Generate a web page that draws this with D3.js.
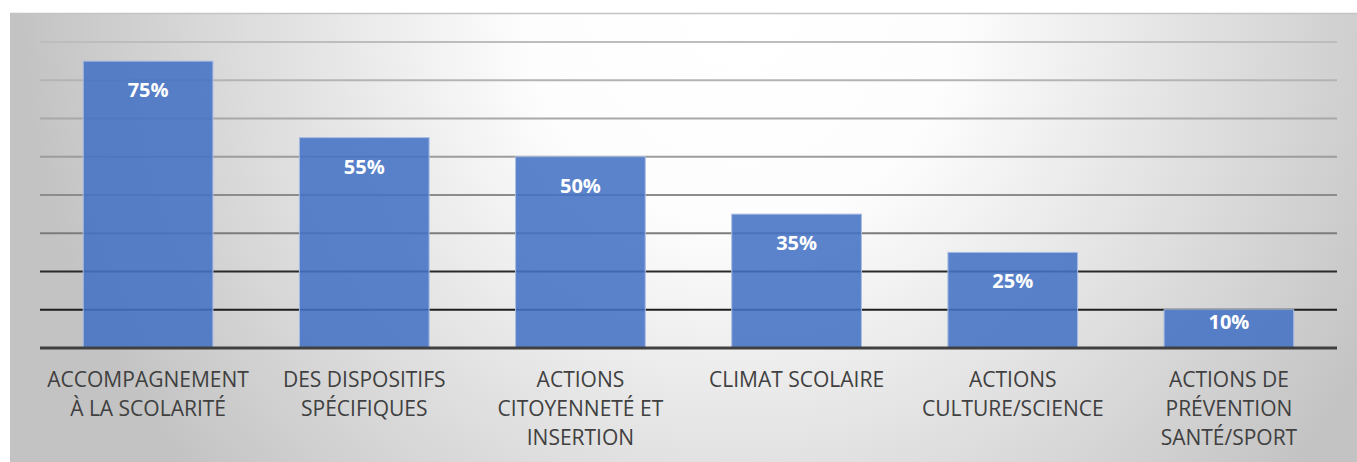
<!DOCTYPE html>
<html>
<head>
<meta charset="utf-8">
<title>Actions</title>
<style>
  body { margin: 0; background: #fff; }
  .xaxis text { font-family: "Open Sans", sans-serif; font-size: 21px; fill: #404040; }
  .xaxis path, .xaxis line { display: none; }
  .val { font-family: "Open Sans", sans-serif; font-size: 20px; font-weight: bold; fill: #fff; text-anchor: middle; }
</style>
</head>
<body>
<svg width="1357" height="462"></svg>
<script src="https://d3js.org/d3.v7.min.js"></script>
<script>
  // data
  var categories = ["ACCOMPAGNEMENT À LA SCOLARITÉ", "DES DISPOSITIFS SPÉCIFIQUES", "ACTIONS CITOYENNETÉ ET INSERTION",
                    "CLIMAT SCOLAIRE", "ACTIONS CULTURE/SCIENCE", "ACTIONS DE PRÉVENTION SANTÉ/SPORT"];
  var labelLines = [["ACCOMPAGNEMENT", "À LA SCOLARITÉ"], ["DES DISPOSITIFS", "SPÉCIFIQUES"], ["ACTIONS", "CITOYENNETÉ ET", "INSERTION"],
                    ["CLIMAT SCOLAIRE"], ["ACTIONS", "CULTURE/SCIENCE"], ["ACTIONS DE", "PRÉVENTION", "SANTÉ/SPORT"]];
  var values = [0.75, 0.55, 0.50, 0.35, 0.25, 0.10];
  var gridTicks = [0.1, 0.2, 0.3, 0.4, 0.5, 0.6, 0.7, 0.8];
  var gridColors = ["#1e1e1e", "#2a2a2a", "#7c7c7c", "#8c8c8c", "#9c9c9c", "#a8a8a8", "#b4b4b4", "#bdbdbd"];

  var svg = d3.select("svg");

  // background box with radial gradient
  var defs = svg.append("defs");
  var grad = defs.append("radialGradient")
      .attr("id", "bg")
      .attr("gradientUnits", "userSpaceOnUse")
      .attr("cx", 740).attr("cy", 10).attr("r", 720);
  grad.append("stop").attr("offset", 0).attr("stop-color", "#ffffff");
  grad.append("stop").attr("offset", 0.3).attr("stop-color", "#fdfdfd");
  grad.append("stop").attr("offset", 1).attr("stop-color", "#c3c3c3");

  svg.append("rect")
      .attr("x", 10).attr("y", 13).attr("width", 1347).attr("height", 449)
      .attr("fill", "url(#bg)");
  svg.append("line")
      .attr("x1", 10).attr("x2", 1357).attr("y1", 13.5).attr("y2", 13.5)
      .attr("stroke", "#c4c4c4").attr("stroke-width", 1.5);

  // scales
  var x = d3.scaleBand()
      .domain(categories)
      .range([40, 1337])
      .paddingInner(0.4)
      .paddingOuter(0.2);

  var y = d3.scaleLinear()
      .domain([0, 0.8])
      .range([348, 42]);

  // gridlines
  svg.append("g")
      .selectAll("line")
      .data(gridTicks)
      .enter().append("line")
      .attr("x1", 40).attr("x2", 1337)
      .attr("y1", function(d) { return y(d); })
      .attr("y2", function(d) { return y(d); })
      .attr("stroke", function(d, i) { return gridColors[i]; })
      .attr("stroke-width", 2);

  // bars
  svg.append("g")
      .selectAll("rect")
      .data(values)
      .enter().append("rect")
      .attr("x", function(d, i) { return x(categories[i]); })
      .attr("y", function(d) { return y(d); })
      .attr("width", x.bandwidth())
      .attr("height", function(d) { return y(0) - y(d); })
      .attr("fill", "#4472c4")
      .attr("fill-opacity", 0.88)
      .attr("stroke", "#a9bde3")
      .attr("stroke-width", 1);

  // value labels (inside end, pulled up on short bars)
  svg.append("g")
      .selectAll("text")
      .data(values)
      .enter().append("text")
      .attr("class", "val")
      .attr("x", function(d, i) { return x(categories[i]) + x.bandwidth() / 2; })
      .attr("y", function(d) { return y(d) + Math.min(36, (y(0) - y(d)) / 2); })
      .text(function(d) { return d3.format(".0%")(d); });

  // baseline
  svg.append("line")
      .attr("x1", 40).attr("x2", 1337)
      .attr("y1", y(0)).attr("y2", y(0))
      .attr("stroke", "#404040").attr("stroke-width", 3);

  // category axis
  var xAxis = svg.append("g")
      .attr("class", "xaxis")
      .attr("transform", "translate(0," + y(0) + ")")
      .call(d3.axisBottom(x).tickSize(0));

  xAxis.selectAll(".tick text")
      .text(null)
      .attr("y", 0)
      .attr("dy", null)
      .each(function(d, i) {
        var t = d3.select(this);
        labelLines[i].forEach(function(line, j) {
          t.append("tspan")
            .attr("x", 0)
            .attr("y", 39 + j * 29)
            .text(line);
        });
      });
</script>
</body>
</html>
